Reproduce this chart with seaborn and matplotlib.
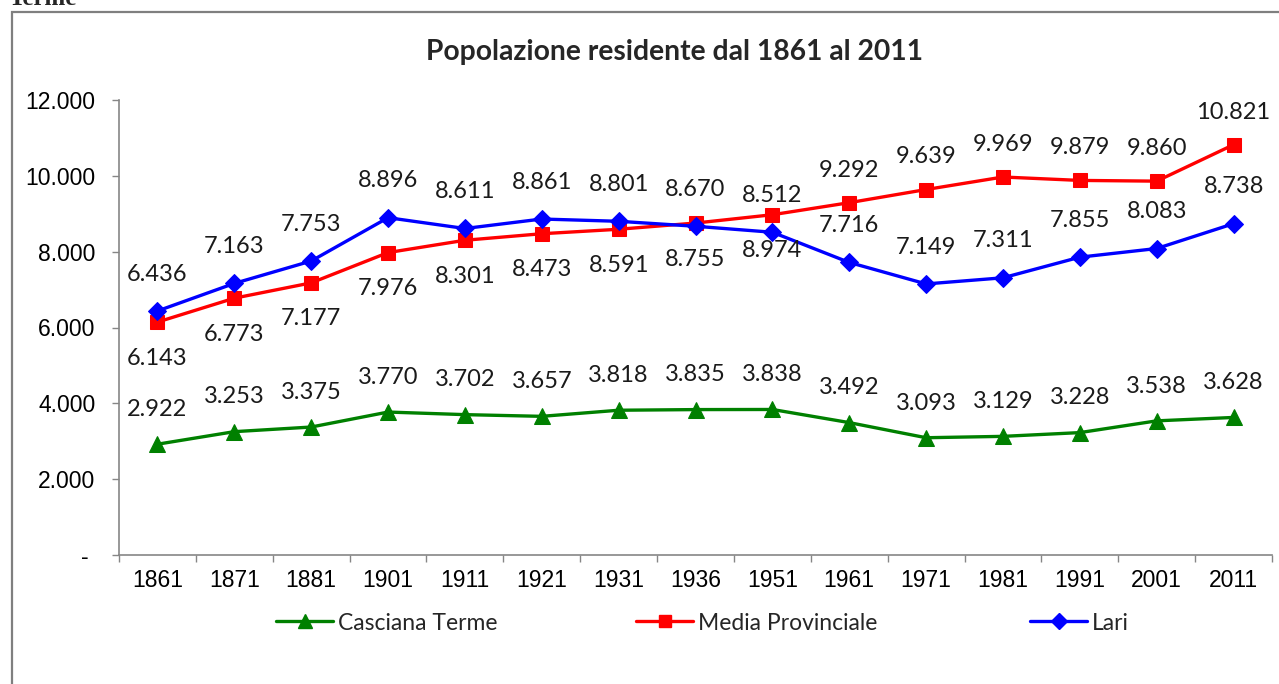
import matplotlib
matplotlib.use("Agg")
import matplotlib.pyplot as plt
from matplotlib.patches import Rectangle
from matplotlib.lines import Line2D
from matplotlib.ticker import FuncFormatter, FixedLocator
import seaborn as sns
import pandas as pd
import numpy as np

# ---- data ----
years = ["1861", "1871", "1881", "1901", "1911", "1921", "1931", "1936",
         "1951", "1961", "1971", "1981", "1991", "2001", "2011"]
casciana_terme = [2922, 3253, 3375, 3770, 3702, 3657, 3818, 3835, 3838,
                  3492, 3093, 3129, 3228, 3538, 3628]
media_provinciale = [6143, 6773, 7177, 7976, 8301, 8473, 8591, 8755, 8974,
                     9292, 9639, 9969, 9879, 9860, 10821]
lari = [6436, 7163, 7753, 8896, 8611, 8861, 8801, 8670, 8512,
        7716, 7149, 7311, 7855, 8083, 8738]
series_names = ["Casciana Terme", "Media Provinciale", "Lari"]
title = "Popolazione residente dal 1861 al 2011"

# ---- styles ----
colors = {"Casciana Terme": "#008000", "Media Provinciale": "#ff0000", "Lari": "#0000ff"}
markers = {"Casciana Terme": "^", "Media Provinciale": "s", "Lari": "D"}
msizes = {"Casciana Terme": 11, "Media Provinciale": 10, "Lari": 9}

df = pd.DataFrame({
    "Anno": years * 3,
    "Serie": sum([[n] * len(years) for n in series_names], []),
    "Valore": casciana_terme + media_provinciale + lari,
})

sns.set_theme(style="white")
plt.rcParams["font.family"] = ["Liberation Sans", "DejaVu Sans"]

W, H, DPI = 1279, 684, 100
fig = plt.figure(figsize=(W / DPI, H / DPI), dpi=DPI)
ax = fig.add_axes([119 / W, 1 - 555 / H, (1272 - 119) / W, (555 - 100) / H])

for name in series_names:
    sub = df[df["Serie"] == name]
    sns.lineplot(data=sub, x="Anno", y="Valore", ax=ax, color=colors[name],
                 marker=markers[name], markersize=msizes[name], linewidth=2.4,
                 markeredgecolor=colors[name], sort=False, legend=False)

ax.set_xlim(-0.5, len(years) - 0.5)
ax.set_ylim(0, 12000)
ax.set_xlabel("")
ax.set_ylabel("")

# y axis
ax.yaxis.set_major_locator(FixedLocator(np.arange(0, 12001, 2000)))
ax.yaxis.set_major_formatter(FuncFormatter(
    lambda v, p: "- " if v == 0 else f"{int(v):,}".replace(",", ".")))
ax.tick_params(axis="y", which="major", direction="out", length=5, width=1,
               color="#868686", labelsize=16.5, pad=12, left=True)
# x axis: labels at centers, ticks at boundaries
ax.set_xticks(range(len(years)))
ax.set_xticklabels(years)
ax.set_xticks(np.arange(-0.5, len(years), 1), minor=True)
ax.tick_params(axis="x", which="major", length=0, labelsize=16.5, pad=10)
ax.tick_params(axis="x", which="minor", direction="out", length=5, width=1,
               color="#868686", bottom=True)
for lab in ax.get_xticklabels() + ax.get_yticklabels():
    lab.set_color("#000000")

for s in ["top", "right"]:
    ax.spines[s].set_visible(False)
for s in ["left", "bottom"]:
    ax.spines[s].set_color("#868686")
    ax.spines[s].set_linewidth(1.2)
ax.grid(False)

# data labels
lab_font = dict(family=["Lato", "DejaVu Sans"], fontsize=17, color="#1a1a1a",
                ha="center", va="center")
for i, v in enumerate(casciana_terme):
    ax.annotate(f"{v:,}".replace(",", "."), (i, v), xytext=(0, 25),
                textcoords="offset points", **lab_font)
for i, v in enumerate(lari):
    ax.annotate(f"{v:,}".replace(",", "."), (i, v), xytext=(0, 26.5),
                textcoords="offset points", **lab_font)
for i, v in enumerate(media_provinciale):
    off = -26 if i < 9 else 23.5
    ax.annotate(f"{v:,}".replace(",", "."), (i, v), xytext=(0, off),
                textcoords="offset points", **lab_font)

# title
fig.text(675 / W, 1 - 52 / H, title, ha="center", va="center",
         fontsize=20.3, fontweight="bold", family=["Lato", "DejaVu Sans"])

# legend (three entries spread across the bottom)
leg_x = [276, 636, 1030]
for name, lx in zip(series_names, leg_x):
    h = Line2D([], [], color=colors[name], marker=markers[name],
               markersize=msizes[name] - 1, linewidth=2.4)
    fig.legend([h], [name], loc="center left",
               bbox_to_anchor=(lx / W, 1 - 623 / H), frameon=False,
               handlelength=2.5, handletextpad=0.2, borderpad=0,
               borderaxespad=0,
               prop={"family": ["Lato", "DejaVu Sans"], "size": 16.5})

# chart border (partially visible)
fig.patches.append(Rectangle((12 / W, -0.2), 1.2, 1 - 12 / H + 0.2,
                             transform=fig.transFigure, fill=False,
                             edgecolor="#7f7f7f", linewidth=1.6))
# cut-off heading above the chart (as in the reference)
fig.text(9 / W, 1 - 5 / H, "Terme", ha="left", va="baseline", fontsize=18,
         fontweight="bold", family=["Liberation Serif", "DejaVu Serif"])

fig.savefig("out.png", dpi=DPI)
